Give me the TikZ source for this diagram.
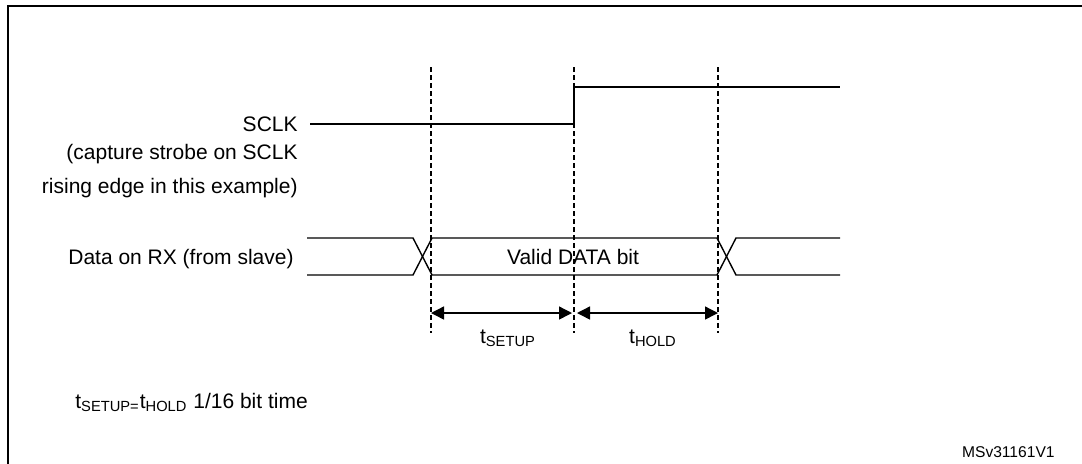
\documentclass[tikz,border=0pt]{standalone}
\usepackage{fontspec}
\setmainfont{Liberation Sans}
\usetikzlibrary{arrows.meta}
\tikzset{
  frame/.style={line width=1pt},
  signal/.style={line width=0.7pt},
  marker/.style={line width=0.55pt, dash pattern=on 2.6pt off 1.4pt},
  span/.style={line width=0.7pt, {Triangle[length=6.5pt,width=6.5pt]}-{Triangle[length=6.5pt,width=6.5pt]}},
  lbl/.style={inner sep=0pt}
}

\begin{document}
\begin{tikzpicture}[x=0.5pt,y=-0.5pt,font=\fontsize{10.5}{12.6}\selectfont]
    \useasboundingbox (0,0) rectangle (1082,463);
    % Frame
    \draw[frame] (8,470) |- (1090,6);

    % Edge markers
    \foreach \x/\n in {431/1,574/2,718/3} {
        \coordinate (m\n t) at (\x,67);
        \coordinate (m\n b) at (\x,333);
        \draw[marker] (m\n t) -- (m\n b);
    }

    % SCLK
    \node[anchor=east, inner xsep=6pt, inner ysep=0pt] (sclk) at (310,124) {SCLK};
    \draw[signal] (sclk.east) -- (sclk.east -| m2t) -- (574,87) -- (840,87);
    \node[lbl, anchor=base east] (cap1) at (298,159) {(capture strobe on SCLK};
    \node[lbl, anchor=base east] (cap2) at (298,193) {rising edge in this example)};

    % Data on RX
    \node[lbl, anchor=base east] (rx) at (294,264) {Data on RX (from slave)};
    \draw[signal] (307,238) -- (413,238) -- (432,275) -- (717,275) -- (736,238) -- (840,238);
    \draw[signal] (307,275) -- (413,275) -- (432,238) -- (717,238) -- (736,275) -- (840,275);
    \node[lbl, anchor=base] (valid) at (573,264) {Valid DATA bit};

    % Setup and hold
    \coordinate (s1) at (431,313);
    \coordinate (s2) at (572,313);
    \coordinate (h1) at (577,313);
    \coordinate (h2) at (718,313);
    \draw[span] (s1) -- (s2);
    \draw[span] (h1) -- (h2);
    \node[lbl, anchor=base] (tsetup) at (508,343) {t\textsubscript{SETUP}};
    \node[lbl, anchor=base] (thold) at (653,343) {t\textsubscript{HOLD}};

    % Note
    \node[lbl, anchor=base west] (note) at (75,408) {t\textsubscript{SETUP=}t\textsubscript{HOLD} 1/16 bit time};
    \node[lbl, anchor=base east, font=\fontsize{7.8}{9}\selectfont] (ref) at (1055,457) {MSv31161V1};
\end{tikzpicture}
\end{document}
